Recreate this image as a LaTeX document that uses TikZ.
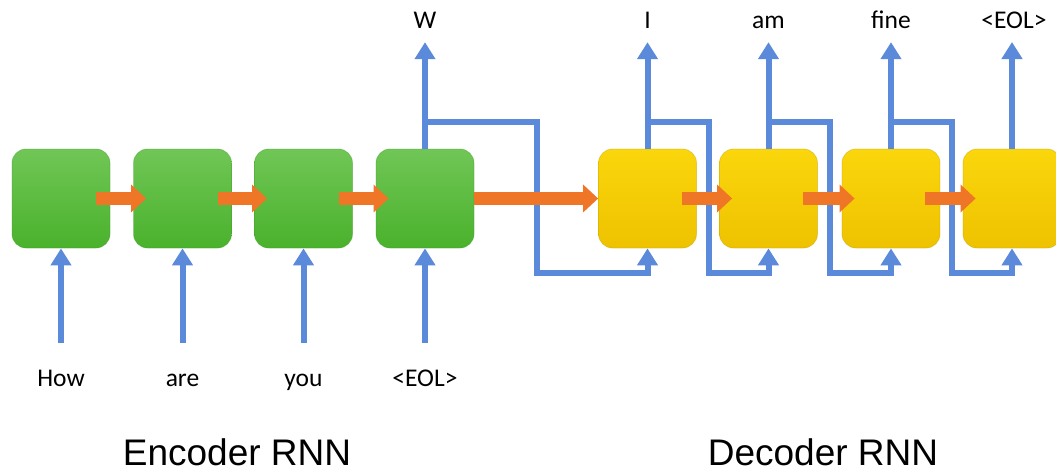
\documentclass[tikz,border=0pt]{standalone}
\usepackage{fontspec}
\setmainfont{Carlito}
\newfontfamily\titlefont{Liberation Sans}
\usetikzlibrary{arrows.meta}
\definecolor{lineblue}{RGB}{92,138,218}
\definecolor{arroworange}{RGB}{238,118,38}
\definecolor{greentop}{RGB}{112,198,86}
\definecolor{greenbot}{RGB}{74,178,44}
\definecolor{yellowtop}{RGB}{250,214,12}
\definecolor{yellowbot}{RGB}{238,194,0}
\begin{document}
\begin{tikzpicture}[x=1pt,y=-1pt,
  cellbox/.style={rounded corners=14pt, minimum width=98pt, minimum height=99pt, inner sep=0pt, line width=0.8pt},
  encbox/.style={cellbox, top color=greentop, bottom color=greenbot, draw=greenbot!85!black, draw opacity=0.35},
  decbox/.style={cellbox, top color=yellowtop, bottom color=yellowbot, draw=yellowbot!80!black, draw opacity=0.35},
  bline/.style={draw=lineblue, line width=6pt},
  barrow/.style={bline, -{Triangle[length=17pt,width=20pt]}},
  oarrow/.style={draw=arroworange, line width=13pt, -{Triangle[length=15pt,width=27pt]}},
  lab/.style={font=\fontsize{25.5}{28}\selectfont, text height=17pt, text depth=5pt, inner sep=0pt, anchor=base},
  title/.style={font=\titlefont\fontsize{37}{40}\selectfont, inner sep=0pt, anchor=base}]
\clip (0,0) rectangle (1056,474);
\fill[white] (0,0) rectangle (1056,474);

% cells
\node[encbox] (e1) at (61,198.5) {};
\node[encbox] (e2) at (182.5,198.5) {};
\node[encbox] (e3) at (303.5,198.5) {};
\node[encbox] (e4) at (425,198.5) {};
\node[decbox] (d1) at (647.5,198.5) {};
\node[decbox] (d2) at (768.5,198.5) {};
\node[decbox] (d3) at (891,198.5) {};
\node[decbox] (d4) at (1012,198.5) {};

% labels
\node[lab] (i1) at (61,386) {How};
\node[lab] (i2) at (182.5,386) {are};
\node[lab] (i3) at (303.5,386) {you};
\node[lab] (i4) at (425,386) {<EOL>};
\node[lab] (ow) at (425,28) {W};
\node[lab] (o1) at (647.5,28) {I};
\node[lab] (o2) at (768.5,28) {am};
\node[lab] (o3) at (891,28) {fine};
\node[lab] (o4) at (1014,28) {<EOL>};
\node[title] (enc) at (237,465) {Encoder RNN};
\node[title] (dec) at (823,465) {Decoder RNN};

% inputs
\foreach \i in {1,2,3,4}
  \draw[barrow] ([yshift=26pt]i\i.north) -- (e\i.south);
% outputs
\draw[barrow] (e4.north) -- ([yshift=-9pt]ow.south);
\draw[barrow] (d1.north) -- ([yshift=-9pt]o1.south);
\draw[barrow] (d2.north) -- ([yshift=-9pt]o2.south);
\draw[barrow] (d3.north) -- ([yshift=-9pt]o3.south);
\draw[barrow] (d4.north) -- (d4.north |- 0,42);
% feedback
\draw[barrow] (e4.north |- 0,122) -| ++(112,151) -| (d1.south);
\draw[barrow] (d1.north |- 0,122) -| ++(61,151) -| (d2.south);
\draw[barrow] (d2.north |- 0,122) -| ++(61,151) -| (d3.south);
\draw[barrow] (d3.north |- 0,122) -| ++(61,151) -| (d4.south);

% recurrent arrows
\draw[oarrow] ([xshift=-14pt]e1.east) -- ([xshift=13pt]e2.west);
\draw[oarrow] ([xshift=-14pt]e2.east) -- ([xshift=13pt]e3.west);
\draw[oarrow] ([xshift=-14pt]e3.east) -- ([xshift=13pt]e4.west);
\draw[oarrow] (e4.east) -- (d1.west);
\draw[oarrow] ([xshift=-15pt]d1.east) -- ([xshift=13pt]d2.west);
\draw[oarrow] ([xshift=-15pt]d2.east) -- ([xshift=13pt]d3.west);
\draw[oarrow] ([xshift=-15pt]d3.east) -- ([xshift=13pt]d4.west);
\end{tikzpicture}
\end{document}
